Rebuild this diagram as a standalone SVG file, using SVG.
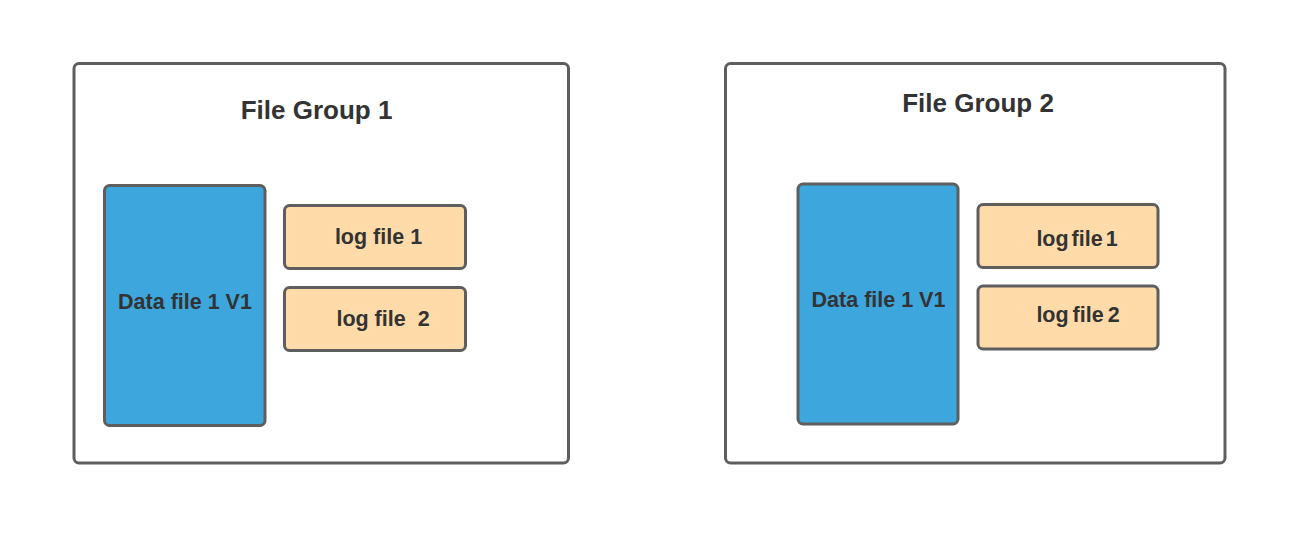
<svg xmlns="http://www.w3.org/2000/svg" width="1300" height="550" viewBox="0 0 1300 550">
<style>
.grp{fill:#ffffff;stroke:#5e5e5e;stroke-width:3}
.data{fill:#3ca6dd;stroke:#5e5e5e;stroke-width:3}
.log{fill:#ffdba9;stroke:#5e5e5e;stroke-width:3}
text{font-family:"Liberation Sans",Arial,sans-serif;font-weight:bold;fill:#333333;text-anchor:middle}
.title{font-size:26px}
.lbl{font-size:21.5px}
</style>
<rect width="1300" height="550" fill="#ffffff"/>
<g id="group1">
<rect class="grp" x="74" y="63.5" width="494.5" height="399.5" rx="5"/>
<text class="title" x="316.5" y="119">File Group 1</text>
</g>
<g id="data1">
<rect class="data" x="104.5" y="185.5" width="160.5" height="240" rx="5"/>
<text class="lbl" x="185" y="309">Data file 1 V1</text>
</g>
<g id="log1a">
<rect class="log" x="284.5" y="205.5" width="181" height="63" rx="5"/>
<text class="lbl" x="378.5" y="244">log file 1</text>
</g>
<g id="log1b">
<rect class="log" x="284.5" y="287.5" width="181" height="63" rx="5"/>
<text class="lbl" x="383" y="326" xml:space="preserve">log file  2</text>
</g>
<g id="group2">
<rect class="grp" x="725.5" y="63.5" width="499.5" height="399.5" rx="5"/>
<text class="title" x="978" y="112">File Group 2</text>
</g>
<g id="data2">
<rect class="data" x="798" y="184" width="160" height="240" rx="5"/>
<text class="lbl" x="878.5" y="307">Data file 1 V1</text>
</g>
<g id="log2a">
<rect class="log" x="978" y="204.5" width="180" height="63" rx="5"/>
<text class="lbl" x="1077" y="246" word-spacing="-3">log file 1</text>
</g>
<g id="log2b">
<rect class="log" x="978" y="286" width="180" height="63" rx="5"/>
<text class="lbl" x="1078" y="321.5" word-spacing="-2">log file 2</text>
</g>
<g id="connectors"></g>
</svg>
